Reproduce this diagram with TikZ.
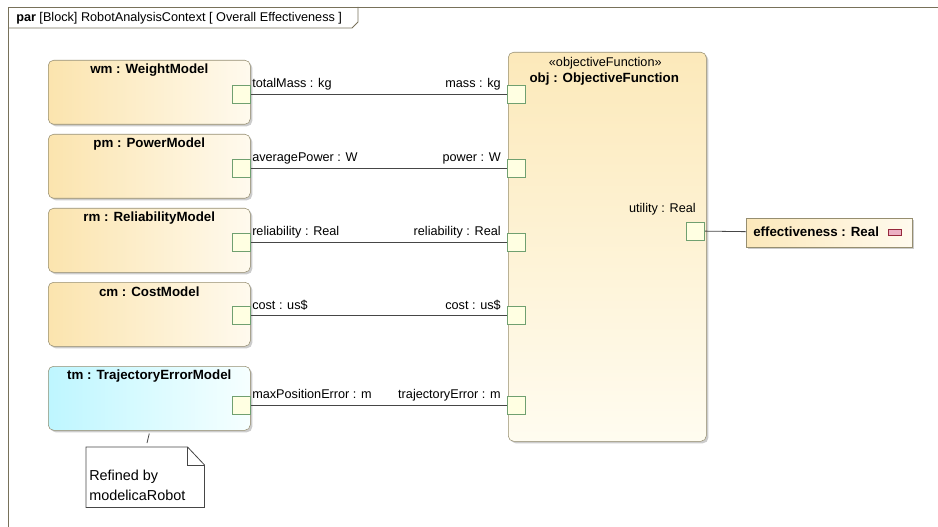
\documentclass[tikz,border=0pt]{standalone}
\usepackage{fontspec}
\setmainfont{Liberation Sans}
\usetikzlibrary{positioning,calc,shadows}

\definecolor{blockL}{RGB}{251,228,174}
\definecolor{blockR}{RGB}{255,250,238}
\definecolor{trajL}{RGB}{190,246,255}
\definecolor{trajR}{RGB}{246,255,255}
\definecolor{objTop}{RGB}{252,233,186}
\definecolor{objBot}{RGB}{255,252,240}
\definecolor{edgeGray}{RGB}{150,142,112}
\definecolor{portFill}{RGB}{255,255,226}
\definecolor{portEdge}{RGB}{112,160,112}
\definecolor{wireGray}{RGB}{70,70,70}
\definecolor{iconPink}{RGB}{236,176,196}
\definecolor{iconEdge}{RGB}{150,40,60}

\begin{document}
\begin{tikzpicture}[x=0.75pt, y=-0.75pt,
    font=\fontsize{9.5}{11}\selectfont,
    block/.style={draw=edgeGray, rounded corners=4pt, anchor=north west, minimum width=151.5pt, minimum height=48pt, left color=blockL, right color=blockR, drop shadow={shadow xshift=1.5pt, shadow yshift=-1.5pt, fill=black!40, opacity=0.5}},
    trajblock/.style={block, left color=trajL, right color=trajR},
    port/.style={draw=portEdge, fill=portFill, minimum size=13.5pt, inner sep=0pt},
    wire/.style={draw=wireGray, line width=0.6pt},
    title/.style={font=\fontsize{10}{12}\selectfont\bfseries, inner sep=0pt},
    portlabel/.style={inner sep=0pt},
    notetext/.style={font=\fontsize{10.8}{13}\selectfont, inner sep=0pt, anchor=west}
]
\useasboundingbox (0,0) rectangle (938,527);

% Diagram frame and header tab
\draw[edgeGray!80!black, line width=0.6pt] (8,527) -- (8,7) -- (938,7);
\draw[edgeGray!80!black, line width=0.6pt] (8,28) -- (352,28) -- (358,22) -- (358,7);
\node[anchor=west, inner sep=0pt] (hdr) at (16,18) {\textbf{par} [Block] RobotAnalysisContext [ Overall Effectiveness ]};

% Analysis model parts
\node[block] (wm) at (48,60) {};
\node[block] (pm) at (48,134) {};
\node[block] (rm) at (48,208) {};
\node[block] (cm) at (48,282) {};
\node[trajblock] (tm) at (48,366) {};

\node[title] (wmT) at ($(wm.north)+(0,10)$) {wm : WeightModel};
\node[title] (pmT) at ($(pm.north)+(0,10)$) {pm : PowerModel};
\node[title] (rmT) at ($(rm.north)+(0,10)$) {rm : ReliabilityModel};
\node[title] (cmT) at ($(cm.north)+(0,10)$) {cm : CostModel};
\node[title] (tmT) at ($(tm.north)+(0,10)$) {tm : TrajectoryErrorModel};

% Objective function
\node[draw=edgeGray, rounded corners=4pt, anchor=north west, minimum width=148.5pt, minimum height=291.75pt, top color=objTop, bottom color=objBot, drop shadow={shadow xshift=1.5pt, shadow yshift=-1.5pt, fill=black!40, opacity=0.5}] (obj) at (508,52) {};
\node[inner sep=0pt] (objS) at ($(obj.north)+(-2,11)$) {«objectiveFunction»};
\node[title] (objT) at ($(obj.north)+(-3,27)$) {obj : ObjectiveFunction};

% Ports on the parts
\node[port, anchor=east] (wmMass) at (251,94) {};
\node[port, anchor=east] (pmPow) at (251,168) {};
\node[port, anchor=east] (rmRel) at (251,242) {};
\node[port, anchor=east] (cmCost) at (251,315) {};
\node[port, anchor=east] (tmErr) at (251,405) {};

\node[port, anchor=west] (objMass) at (507,94) {};
\node[port, anchor=west] (objPow) at (507,168) {};
\node[port, anchor=west] (objRel) at (507,242) {};
\node[port, anchor=west] (objCost) at (507,315) {};
\node[port, anchor=west] (objErr) at (507,405) {};
\node[port, anchor=east] (objUtil) at (705,231) {};

% Binding connectors
\draw[wire] (wmMass) -- (objMass);
\draw[wire] (pmPow) -- (objPow);
\draw[wire] (rmRel) -- (objRel);
\draw[wire] (cmCost) -- (objCost);
\draw[wire] (tmErr) -- (objErr);

% Port labels
\node[portlabel, anchor=base west] (wmMassL) at (252,88) {totalMass : kg};
\node[portlabel, anchor=base west] (pmPowL) at (252,162) {averagePower : W};
\node[portlabel, anchor=base west] (rmRelL) at (252,236) {reliability : Real};
\node[portlabel, anchor=base west] (cmCostL) at (252,309) {cost : us\$};
\node[portlabel, anchor=base west] (tmErrL) at (252,398) {maxPositionError : m};

\node[portlabel, anchor=base east] (objMassL) at (501,88) {mass : kg};
\node[portlabel, anchor=base east] (objPowL) at (501,162) {power : W};
\node[portlabel, anchor=base east] (objRelL) at (501,236) {reliability : Real};
\node[portlabel, anchor=base east] (objCostL) at (501,309) {cost : us\$};
\node[portlabel, anchor=base east] (objErrL) at (501,398) {trajectoryError : m};
\node[portlabel, anchor=base east] (objUtilL) at (696,213) {utility : Real};

% Result value
\node[draw=edgeGray, anchor=north west, minimum width=124.5pt, minimum height=21.75pt, left color=blockL!85, right color=blockR, drop shadow={shadow xshift=1.5pt, shadow yshift=-1.5pt, fill=black!40, opacity=0.5}] (eff) at (746,218) {};
\node[title, anchor=west] (effT) at (753,232) {effectiveness : Real};
\node[draw=iconEdge, fill=iconPink, line width=0.4pt, minimum width=9.75pt, minimum height=4.5pt, inner sep=0pt] (effIcon) at (894.5,232) {};
\draw[wire] (objUtil) -- (eff);

% Note on the trajectory model
\node[anchor=north west, minimum width=88.5pt, minimum height=45pt, inner sep=0pt] (note) at (86,447) {};
\draw[wireGray, line width=0.6pt] (note.north west) -- ($(note.north east)+(-17,0)$) -- ($(note.north east)+(0,18)$) -- (note.south east) -- (note.south west) -- cycle;
\draw[wireGray, line width=0.6pt] ($(note.north east)+(-17,0)$) -- ($(note.north east)+(-17,18)$) -- ($(note.north east)+(0,18)$);
\node[notetext] (noteL1) at (89,477) {Refined by};
\node[notetext] (noteL2) at (89,495) {modelicaRobot};
\coordinate (noteTip) at (147,443);
\draw[wireGray, line width=0.6pt] ($(tm.south)+(0,3)$) -- (noteTip);

\end{tikzpicture}
\end{document}
